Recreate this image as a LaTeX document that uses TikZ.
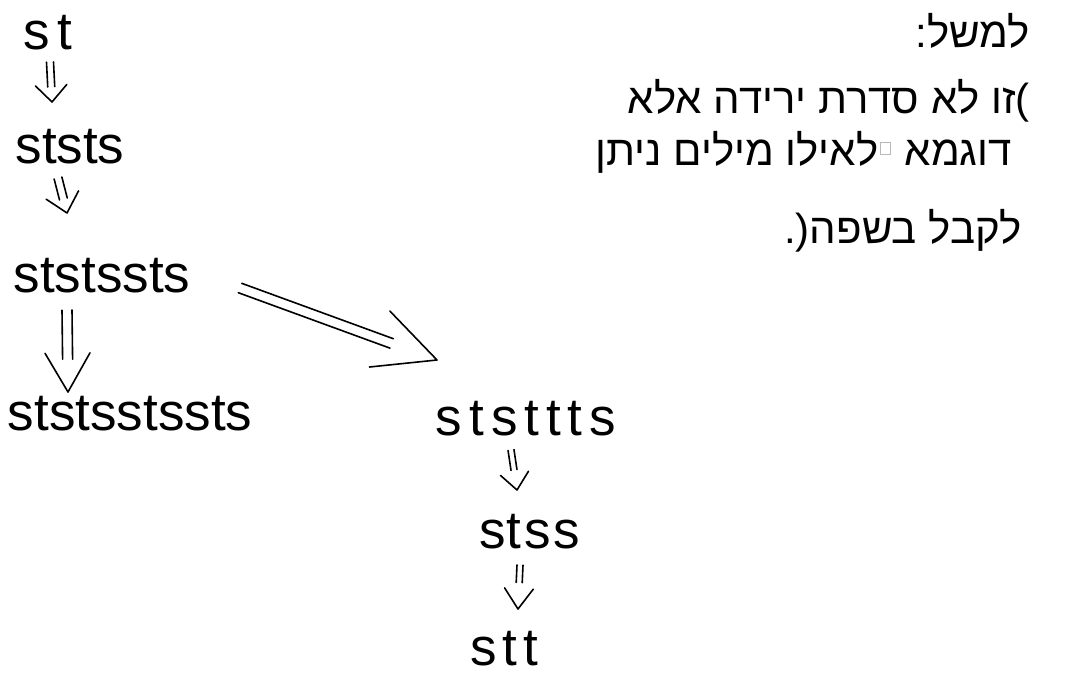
\documentclass[tikz,border=0pt]{standalone}
\usepackage{fontspec}
\setmainfont{Liberation Sans}
\newfontfamily\hebfont[Script=Hebrew]{Liberation Sans}
\TeXXeTstate=1
\usetikzlibrary{calc}
\newcommand\harrow[6]{% #1 start, #2 tip, #3 head length, #4 shaft fraction, #5 half gap, #6 head angle
  \path ($(#1)!#4!(#2)$) coordinate (hae);
  \draw[pen] ($(#1)!#5pt!90:(#2)$) -- ($(hae)!#5pt!-90:(#1)$);
  \draw[pen] ($(#1)!#5pt!-90:(#2)$) -- ($(hae)!#5pt!90:(#1)$);
  \draw[pen] ($(#2)!#3pt!#6:(#1)$) -- (#2) -- ($(#2)!#3pt!-#6:(#1)$);
}
\begin{document}
\begin{tikzpicture}[x=1pt,y=-1pt,
  word/.style={font=\fontsize{53}{53}\selectfont, inner sep=0pt, anchor=base},
  heb/.style={font=\hebfont\fontsize{42}{42}\selectfont, inner sep=0pt, anchor=base east},
  sqbox/.style={draw=gray!55, line width=0.8pt, minimum width=10pt, minimum height=12pt, inner sep=0pt, anchor=south east},
  pen/.style={line width=1.6pt, line cap=round, line join=round}]
\useasboundingbox[fill=white] (0,0) rectangle (1073,677);
% words
\node[word] (w1) at (48,49) {s\kern8pt t};
\node[word] (w2) at (70,163) {ststs};
\node[word] (w3) at (102,292) {ststssts};
\node[word] (w4) at (130,430) {ststsstssts};
\node[word] (w5) at (526,435) {s\kern7pt t\kern7pt s\kern7pt t\kern7pt t\kern7pt t\kern7pt s};
\node[word] (w6) at (530,548) {st\kern3pt s\kern3pt s};
\node[word] (w7) at (504,665) {s\kern6pt t\kern6pt t};
% arrow ends
\coordinate (a1s) at ($(w1.base)+(2,13)$);
\coordinate (a1t) at ($(w2.base)+(-18,-61)$);
\coordinate (a2s) at ($(w2.base)+(-12,15)$);
\coordinate (a2t) at ($(w3.base)+(-35,-79)$);
\coordinate (a3s) at ($(w3.base)+(-35,18)$);
\coordinate (a3t) at ($(w4.base)+(-62,-38)$);
\coordinate (a4s) at ($(w3.base)+(138,-4)$);
\coordinate (a4t) at ($(w5.base)+(-89,-75)$);
\coordinate (a5s) at ($(w5.base)+(-15,15)$);
\coordinate (a5t) at ($(w6.base)+(-13,-58)$);
\coordinate (a6s) at ($(w6.base)+(-10,17)$);
\coordinate (a6t) at ($(w7.base)+(14,-56)$);
\harrow{a1s}{a1t}{23}{0.62}{3.5}{43}
\harrow{a2s}{a2t}{25}{0.6}{4}{42}
\harrow{a3s}{a3t}{45}{0.6}{5}{30}
\harrow{a4s}{a4t}{68}{0.77}{5}{26}
\harrow{a5s}{a5t}{22}{0.5}{3}{40}
\harrow{a6s}{a6t}{25}{0.4}{3}{35}
% Hebrew note
\node[heb] (h1) at (1030,48) {\beginR למשל:\endR};
\node[heb] (h2) at (1030,113) {\beginR )זו לא סדרת ירידה אלא\endR};
\node[heb] (h3a) at (1012,165) {\beginR דוגמא\endR};
\node[sqbox] (h3b) at ($(h3a.base west)+(-14,-10)$) {};
\node[heb] (h3c) at ($(h3b.south west)+(-1,10)$) {\beginR לאילו מילים ניתן\endR};
\node[heb] (h4) at (1022,243) {\beginR לקבל בשפה(.\endR};
\end{tikzpicture}
\end{document}
